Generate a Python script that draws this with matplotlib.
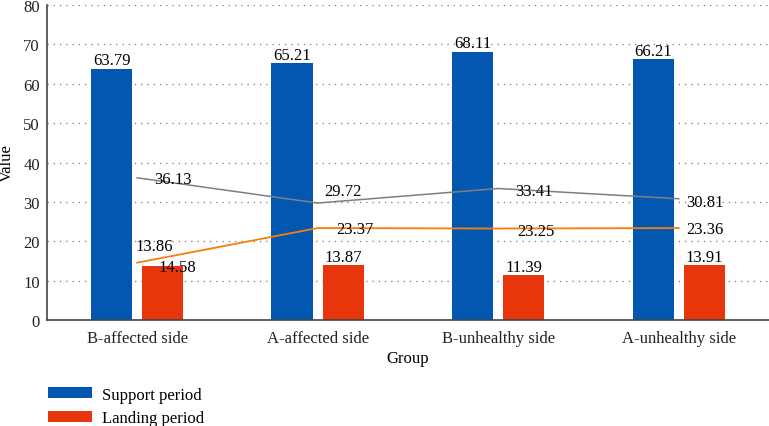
import matplotlib.pyplot as plt
import numpy as np

plt.rcParams['font.family'] = ['Liberation Serif', 'DejaVu Serif']

groups = ["B-affected side", "A-affected side", "B-unhealthy side", "A-unhealthy side"]
support = [63.79, 65.21, 68.11, 66.21]
landing = [13.86, 13.87, 11.39, 13.91]
line_gray = [36.13, 29.72, 33.41, 30.81]
line_orange = [14.58, 23.37, 23.25, 23.36]

blue = '#0457B0'
red = '#E8360C'
fs = 12

fig = plt.figure(figsize=(7.69, 4.27), dpi=100)
ax = fig.add_axes([0.061, 0.248, 0.939, 0.738])

x = np.arange(len(groups))
w = 0.228
off = 0.142

b1 = ax.bar(x - off, support, w, color=blue, label="Support period", zorder=2)
b2 = ax.bar(x + off, landing, w, color=red, label="Landing period", zorder=2)

ax.plot(x, line_gray, color='#7f7f7f', lw=1.1, zorder=3)
ax.plot(x, line_orange, color='#FA7D0A', lw=1.3, zorder=3)

# bar value labels
for xi, v in zip(x - off, support):
    ax.annotate(f"{v:.2f}", (xi, v), xytext=(0, 0.5), textcoords='offset points',
                ha='center', va='bottom', fontsize=fs, zorder=5)
for i, (xi, v) in enumerate(zip(x + off, landing)):
    dx, dy = (-6, 8) if i == 0 else (0, 0.5)
    ax.annotate(f"{v:.2f}", (xi, v), xytext=(dx, dy), textcoords='offset points',
                ha='center', va='bottom', fontsize=fs, zorder=5)

# line value labels
gray_off = [(26, -1), (18, 9), (26, -2), (19, -2)]
for xi, v, (dx, dy) in zip(x, line_gray, gray_off):
    ax.annotate(f"{v:.2f}", (xi, v), xytext=(dx, dy), textcoords='offset points',
                ha='center', va='center', fontsize=fs, zorder=5)
orange_off = [(29, -3), (27, -1), (27, -2), (19, -1)]
for xi, v, (dx, dy) in zip(x, line_orange, orange_off):
    ax.annotate(f"{v:.2f}", (xi, v), xytext=(dx, dy), textcoords='offset points',
                ha='center', va='center', fontsize=fs, zorder=5)

ax.set_xlim(-0.5, 3.5)
ax.set_ylim(0, 80)
ax.set_yticks(np.arange(0, 81, 10))
ax.set_xticks(x)
ax.set_xticklabels(groups)
ax.tick_params(axis='both', length=0, labelsize=fs, colors='#222222')
ax.tick_params(axis='x', pad=7)
ax.tick_params(axis='y', pad=5)
ax.yaxis.grid(True, linestyle=(0, (1, 4)), color='#777777', lw=0.9, zorder=0)
ax.set_axisbelow(True)

for s in ['top', 'right']:
    ax.spines[s].set_visible(False)
for s in ['left', 'bottom']:
    ax.spines[s].set_color('#444444')
    ax.spines[s].set_linewidth(1.2)

ax.set_xlabel("Group", fontsize=fs, labelpad=3)
ax.set_ylabel("Value", fontsize=fs, labelpad=6)

fig.legend(handles=[b1, b2], loc='upper left', bbox_to_anchor=(0.052, 0.112),
           frameon=False, fontsize=fs, handlelength=2.6, handleheight=0.66,
           labelspacing=0.45, handletextpad=0.6, borderpad=0)

fig.savefig("out.png", dpi=100)
